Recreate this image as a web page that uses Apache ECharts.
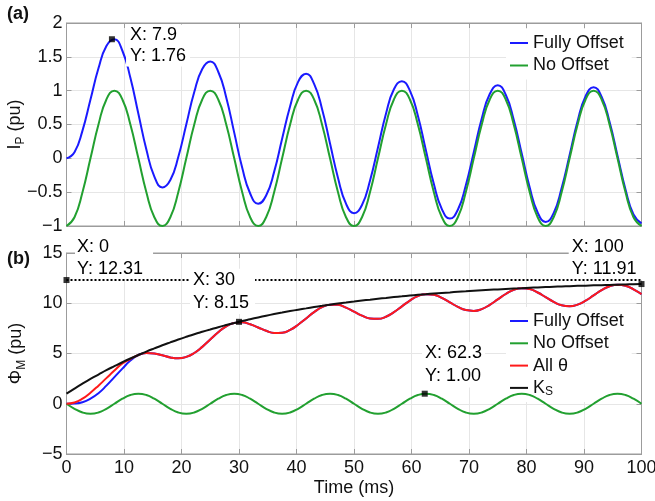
<!DOCTYPE html>
<html><head><meta charset="utf-8">
<script src="https://cdn.jsdelivr.net/npm/echarts@6/dist/echarts.min.js"></script>
<style>html,body{margin:0;padding:0;background:#fff}#c{width:655px;height:501px}</style>
</head><body><div id="c"></div>
<script>
// time samples (ms)
const tMs = [0,1.39,2.78,4.17,5.56,6.94,8.33,9.72,11.11,12.5,13.89,15.28,16.67,18.06,19.44,20.83,22.22,23.61,25,26.39,27.78,29.17,30.56,31.94,33.33,34.72,36.11,37.5,38.89,40.28,41.67,43.06,44.44,45.83,47.22,48.61,50,51.39,52.78,54.17,55.56,56.94,58.33,59.72,61.11,62.5,63.89,65.28,66.67,68.06,69.44,70.83,72.22,73.61,75,76.39,77.78,79.17,80.56,81.94,83.33,84.72,86.11,87.5,88.89,90.28,91.67,93.06,94.44,95.83,97.22,98.61,100];
// (a) I_P
const ipFully = [0,0.09,0.41,0.87,1.33,1.66,1.76,1.59,1.19,0.66,0.13,-0.27,-0.43,-0.32,0.02,0.50,0.98,1.32,1.43,1.28,0.90,0.38,-0.14,-0.52,-0.67,-0.55,-0.20,0.29,0.77,1.13,1.25,1.10,0.73,0.22,-0.29,-0.67,-0.81,-0.69,-0.33,0.16,0.66,1.02,1.14,1.00,0.63,0.12,-0.38,-0.75,-0.89,-0.76,-0.40,0.09,0.59,0.95,1.08,0.94,0.57,0.07,-0.43,-0.80,-0.94,-0.81,-0.44,0.05,0.55,0.92,1.05,0.91,0.54,0.04,-0.46,-0.83,-0.96];
const ipNo = [-1,-0.87,-0.5,0,0.5,0.87,1,0.87,0.5,0,-0.5,-0.87,-1,-0.87,-0.5,0,0.5,0.87,1,0.87,0.5,0,-0.5,-0.87,-1,-0.87,-0.5,0,0.5,0.87,1,0.87,0.5,0,-0.5,-0.87,-1,-0.87,-0.5,0,0.5,0.87,1,0.87,0.5,0,-0.5,-0.87,-1,-0.87,-0.5,0,0.5,0.87,1,0.87,0.5,0,-0.5,-0.87,-1,-0.87,-0.5,0,0.5,0.87,1,0.87,0.5,0,-0.5,-0.87,-1];
// (b) Phi_M
const phiAll = [0,0.12,0.5,1.1,1.8,2.55,3.3,4.0,4.45,4.85,5.06,5.01,4.82,4.61,4.52,4.66,5.05,5.66,6.39,7.12,7.70,8.03,8.10,7.91,7.59,7.26,7.05,7.07,7.35,7.86,8.49,9.12,9.61,9.86,9.84,9.57,9.17,8.77,8.49,8.45,8.66,9.11,9.69,10.27,10.71,10.90,10.84,10.53,10.08,9.64,9.32,9.24,9.42,9.84,10.38,10.92,11.33,11.50,11.41,11.07,10.61,10.14,9.80,9.70,9.86,10.25,10.78,11.30,11.69,11.85,11.74,11.39,10.91];
const phiFully = [0,0.02,0.15,0.5,1.05,1.8,2.65,3.5,4.3,4.85,5.06,5.01,4.82,4.61,4.52,4.66,5.05,5.66,6.39,7.12,7.70,8.03,8.10,7.91,7.59,7.26,7.05,7.07,7.35,7.86,8.49,9.12,9.61,9.86,9.84,9.57,9.17,8.77,8.49,8.45,8.66,9.11,9.69,10.27,10.71,10.90,10.84,10.53,10.08,9.64,9.32,9.24,9.42,9.84,10.38,10.92,11.33,11.50,11.41,11.07,10.61,10.14,9.80,9.70,9.86,10.25,10.78,11.30,11.69,11.85,11.74,11.39,10.91];
const phiNo = [0,-0.5,-0.87,-1,-0.87,-0.5,0,0.5,0.87,1,0.87,0.5,0,-0.5,-0.87,-1,-0.87,-0.5,0,0.5,0.87,1,0.87,0.5,0,-0.5,-0.87,-1,-0.87,-0.5,0,0.5,0.87,1,0.87,0.5,0,-0.5,-0.87,-1,-0.87,-0.5,0,0.5,0.87,1,0.87,0.5,0,-0.5,-0.87,-1,-0.87,-0.5,0,0.5,0.87,1,0.87,0.5,0,-0.5,-0.87,-1,-0.87,-0.5,0,0.5,0.87,1,0.87,0.5,0];
const ks = [1.00,1.51,2.00,2.47,2.91,3.34,3.74,4.13,4.50,4.85,5.19,5.51,5.82,6.11,6.39,6.66,6.92,7.16,7.39,7.62,7.83,8.03,8.23,8.41,8.59,8.76,8.92,9.07,9.22,9.36,9.49,9.62,9.74,9.86,9.97,10.07,10.17,10.27,10.36,10.45,10.53,10.61,10.69,10.77,10.84,10.90,10.97,11.03,11.08,11.14,11.19,11.24,11.29,11.34,11.38,11.42,11.46,11.50,11.54,11.57,11.61,11.64,11.67,11.70,11.73,11.75,11.78,11.80,11.82,11.85,11.87,11.89,11.91];
// data tips
const tipA = [7.9, 1.76];
const tipB0 = [0, 12.31];
const tipB30 = [30, 8.15];
const tipB100 = [100, 11.91];
const tipB62 = [62.3, 1.00];

const FONT = 'Liberation Sans, Arial, sans-serif';
const TXT = '#111';
const FRAME = '#9c9c9c';
const GRIDC = '#e6e6e6';
const C_BLUE = '#1a1aff', C_GREEN = '#22a030', C_RED = '#ff1a1a', C_BLACK = '#111';

const zip = (x, y) => x.map((v, i) => [v, y[i]]);
const fmtNum = v => String(v).replace('-', '\u2212');

function xAx(grid, showLabels, pos) {
  return {
    type: 'value', gridIndex: grid, min: 0, max: 100, interval: 10, position: pos,
    axisLine: { show: true, onZero: false, lineStyle: { color: FRAME, width: 1 } },
    axisTick: { show: true, inside: true, length: 5, lineStyle: { color: FRAME } },
    axisLabel: { show: showLabels, fontSize: 18, color: TXT, fontFamily: FONT, margin: 5 },
    splitLine: { show: pos === 'bottom', lineStyle: { color: GRIDC, width: 1 } }
  };
}
function yAx(grid, min, max, interval, pos, name, gap) {
  const a = {
    type: 'value', gridIndex: grid, min, max, interval, position: pos,
    axisLine: { show: true, onZero: false, lineStyle: { color: FRAME, width: 1 } },
    axisTick: { show: true, inside: true, length: 5, lineStyle: { color: FRAME } },
    axisLabel: { show: pos === 'left', fontSize: 18, color: TXT, fontFamily: FONT, margin: 4, formatter: fmtNum },
    splitLine: { show: pos === 'left', lineStyle: { color: GRIDC, width: 1 } }
  };
  if (name) {
    a.name = name; a.nameLocation = 'middle'; a.nameGap = gap; a.nameMoveOverlap = false;
    a.nameTextStyle = { color: TXT, fontFamily: FONT, fontSize: 18,
      rich: { n: { fontSize: 18, fontFamily: FONT, color: TXT, lineHeight: 22 },
              s: { fontSize: 12, fontFamily: FONT, color: TXT, lineHeight: 13, verticalAlign: 'bottom' } } };
  }
  return a;
}
function lineS(name, x, y, data, color, z) {
  return { name, type: 'line', xAxisIndex: x, yAxisIndex: y, data, showSymbol: false, symbol: 'none',
    smooth: 0.5, lineStyle: { color, width: 2 }, itemStyle: { color }, z: z || 2, animation: false };
}
function tipS(x, y, pt, off, pad, lh, z) {
  return { type: 'scatter', xAxisIndex: x, yAxisIndex: y, data: [pt], symbol: 'rect', symbolSize: 6,
    itemStyle: { color: '#000' }, z, animation: false, silent: true,
    label: { show: true, position: 'inside', align: 'left', verticalAlign: 'top', offset: off,
      formatter: p => 'X: ' + p.value[0] + '\nY: ' + p.value[1].toFixed(2),
      fontSize: 18, fontFamily: FONT, color: '#000', opacity: 1, textBorderWidth: 0, textShadowBlur: 0,
      lineHeight: lh, backgroundColor: '#fff', padding: pad } };
}

const chart = echarts.init(document.getElementById('c'), null, { renderer: 'canvas' });
chart.setOption({
  backgroundColor: '#fff',
  animation: false,
  textStyle: { fontFamily: FONT },
  grid: [
    { left: 66.5, right: 13.5, top: 23, height: 203, show: true, borderColor: FRAME, borderWidth: 1, backgroundColor: '#fff', containLabel: false, outerBoundsMode: 'none' },
    { left: 66.5, right: 13.5, top: 253, height: 201, show: true, borderColor: FRAME, borderWidth: 1, backgroundColor: '#fff', containLabel: false, outerBoundsMode: 'none' }
  ],
  xAxis: [
    xAx(0, false, 'bottom'), xAx(0, false, 'top'),
    Object.assign(xAx(1, true, 'bottom'), { name: 'Time (ms)', nameLocation: 'middle', nameGap: 25,
      nameTextStyle: { fontSize: 18, color: TXT, fontFamily: FONT } }),
    xAx(1, false, 'top')
  ],
  yAxis: [
    yAx(0, -1, 2, 0.5, 'left', '{n|I}{s|P}{n| (pu)}', 40), yAx(0, -1, 2, 0.5, 'right'),
    yAx(1, -5, 15, 5, 'left', '{n|\u03A6}{s|M}{n| (pu)}', 39), yAx(1, -5, 15, 5, 'right')
  ],
  legend: [
    { data: ['Fully Offset', 'No Offset'], orient: 'vertical', left: 506, top: 29, icon: 'rect', z: 1,
      itemWidth: 18, itemHeight: 2, itemGap: 2.5, padding: [4, 8, 4, 4], backgroundColor: '#fff',
      textStyle: { fontSize: 18, color: TXT, fontFamily: FONT, lineHeight: 20 } },
    { data: ['Fully Offset', 'No Offset', 'All \u03B8', 'KS'], orient: 'vertical', left: 506, top: 307, icon: 'rect', z: 1,
      itemWidth: 18, itemHeight: 2, itemGap: 2.3, padding: [4, 8, 4, 4], backgroundColor: '#fff',
      formatter: n => n === 'KS' ? '{n|K}{s|S}' : n,
      textStyle: { fontSize: 18, color: TXT, fontFamily: FONT, lineHeight: 20,
        rich: { n: { fontSize: 18, fontFamily: FONT, color: TXT, lineHeight: 20 },
                s: { fontSize: 12, fontFamily: FONT, color: TXT, lineHeight: 12, verticalAlign: 'bottom' } } } }
  ],
  series: [
    lineS('Fully Offset', 0, 0, zip(tMs, ipFully), C_BLUE),
    lineS('No Offset', 0, 0, zip(tMs, ipNo), C_GREEN),
    tipS(0, 0, tipA, [14.1, -14.7], [0, 4, 0, 4], 21, 6),
    lineS('Fully Offset', 2, 2, zip(tMs, phiFully), C_BLUE),
    lineS('No Offset', 2, 2, zip(tMs, phiNo), C_GREEN),
    lineS('All \u03B8', 2, 2, zip(tMs, phiAll), C_RED),
    lineS('KS', 2, 2, zip(tMs, ks), C_BLACK),
    tipS(2, 2, tipB0, [8.5, -43.75], [0, 10, 0, 2], 21.5, 3),
    tipS(2, 2, tipB100, [-72.8, -48.7], [0, 6, 0, 3], 22.6, 3),
    { type: 'line', xAxisIndex: 2, yAxisIndex: 2, data: [[tipB0[0], tipB0[1]], [tipB100[0], tipB0[1]]],
      symbol: 'none', lineStyle: { color: '#000', width: 2, type: [2, 2] }, z: 4, animation: false, silent: true },
    tipS(2, 2, tipB30, [-49, -53.15], [0, 6, 0, 3], 22.7, 6),
    tipS(2, 2, tipB62, [-2.7, -51.7], [0, 3, 0, 3], 22.7, 6)
  ],
  graphic: [
    { type: 'text', left: 7, top: 5, style: { text: '(a)', fontSize: 18, fontWeight: 'bold', fill: TXT, fontFamily: FONT } },
    { type: 'text', left: 7, top: 250, style: { text: '(b)', fontSize: 18, fontWeight: 'bold', fill: TXT, fontFamily: FONT } }
  ]
});
</script></body></html>
